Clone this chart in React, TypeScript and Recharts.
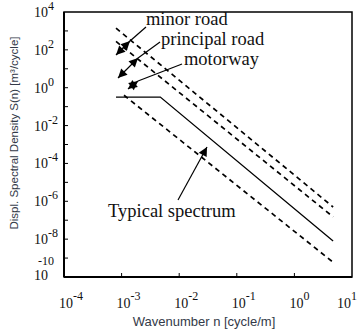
import React from "react";
import {
  LineChart,
  Line,
  XAxis,
  YAxis,
  ReferenceArea,
  ReferenceLine,
  ReferenceDot,
} from "recharts";

// spectra (n in cycle/m, S in m^3/cycle)
const upperN = [8e-4, 4.7];
const upperS = [1400, 5e-7];
const middleN = [8e-4, 4.7];
const middleS = [280, 1.5e-7];
const typicalN = [8e-4, 4.7e-3, 4.7];
const typicalS = [0.32, 0.32, 8e-9];
const lowerN = [1.1e-3, 4.7];
const lowerS = [0.4, 6e-10];

const xTicks = [1e-4, 1e-3, 1e-2, 1e-1, 1, 10];
const yTicks = [
  1e-10, 1e-9, 1e-8, 1e-7, 1e-6, 1e-5, 1e-4, 1e-3, 1e-2, 1e-1, 1, 10, 100,
  1000, 1e4,
];

// annotation texts and where they sit (data units)
const noteText = ["minor road", "principal road", "motorway", "Typical spectrum"];
const noteN = [2.65e-3, 4.83e-3, 1.21e-2, 5.81e-4];
const noteS = [2050, 181, 15.8, 1.48e-7];

// pointer arrows: [n1, S1, n2, S2], heads
const arrows: { seg: number[]; heads: string }[] = [
  { seg: [2.65e-3, 1622, 1.4e-3, 294], heads: "none" },
  { seg: [1.4e-3, 294, 8.0e-4, 53.5], heads: "both" },
  { seg: [4.65e-3, 260, 1.93e-3, 37.2], heads: "none" },
  { seg: [1.93e-3, 37.2, 8.66e-4, 3.26], heads: "both" },
  { seg: [1.12e-2, 17.9, 1.93e-3, 2.26], heads: "none" },
  { seg: [1.93e-3, 2.26, 1.29e-3, 0.855], heads: "both" },
  { seg: [9.53e-3, 1.17e-6, 3.04e-2, 7.4e-4], heads: "end" },
];

const toPoints = (ns: number[], ss: number[]) =>
  ns.map((n, i) => ({ n, S: ss[i] }));

const serif = "'Liberation Serif', 'Times New Roman', serif";
const sans = "'Liberation Sans', Arial, sans-serif";

const head = (xa: number, ya: number, xb: number, yb: number) => {
  const ang = Math.atan2(yb - ya, xb - xa);
  const L = 9;
  const W = 4.5;
  const bx = xb - L * Math.cos(ang);
  const by = yb - L * Math.sin(ang);
  const px = -Math.sin(ang) * W;
  const py = Math.cos(ang) * W;
  return (
    <polygon
      points={`${xb},${yb} ${bx + px},${by + py} ${bx - px},${by - py}`}
      fill="#000"
    />
  );
};

const arrowShape = (heads: string) => (p: any) => {
  const { x1, y1, x2, y2 } = p;
  return (
    <g>
      <line x1={x1} y1={y1} x2={x2} y2={y2} stroke="#000" strokeWidth={1.2} />
      {(heads === "end" || heads === "both") && head(x1, y1, x2, y2)}
      {heads === "both" && head(x2, y2, x1, y1)}
    </g>
  );
};

const YTick = (props: any) => {
  const { x, y, payload } = props;
  const e = Math.round(Math.log10(payload.value));
  const edge = e === 4 || e === -10;
  const bottom = e === -10;
  return (
    <g>
      {!edge && <line x1={x} x2={x + 4} y1={y} y2={y} stroke="#000" />}
      {e % 2 === 0 && (
        <text fontFamily={serif} fill="#111">
          <tspan
            x={x - 16}
            y={bottom ? y + 3 : y + 5}
            fontSize={14}
            textAnchor="end"
          >
            10
          </tspan>
          <tspan
            x={bottom ? x - 26 : x - 16}
            y={bottom ? y - 12.5 : y - 2}
            fontSize={12}
            textAnchor="start"
          >
            {e}
          </tspan>
        </text>
      )}
    </g>
  );
};

const XTick = (props: any) => {
  const { x, y, payload } = props;
  const e = Math.round(Math.log10(payload.value));
  const shift = e === 1 ? -10 : 0;
  return (
    <g>
      {e > -4 && e < 1 && (
        <line x1={x} x2={x} y1={y} y2={y - 4} stroke="#000" />
      )}
      <text fontFamily={serif} fill="#111">
        <tspan x={x + 2 + shift} y={y + 31} fontSize={14} textAnchor="middle">
          10
        </tspan>
        <tspan x={x + 9 + shift} y={y + 23} fontSize={12} textAnchor="start">
          {e}
        </tspan>
      </text>
    </g>
  );
};

export default function App() {
  return (
    <div style={{ position: "absolute", left: 0, top: 0, background: "#fff" }}>
      <LineChart
        width={360}
        height={331}
        margin={{ top: 12, right: 8, left: 0, bottom: 0 }}
      >
        <XAxis
          dataKey="n"
          type="number"
          scale="log"
          domain={[1e-4, 10]}
          ticks={xTicks}
          allowDataOverflow
          height={54}
          tickSize={0}
          tickMargin={0}
          tickLine={false}
          axisLine={{ stroke: "#000", strokeWidth: 2 }}
          tick={<XTick />}
          interval={0}
          label={{
            content: () => (
              <text
                x={204}
                y={326}
                textAnchor="middle"
                fontFamily={sans}
                fontSize={13}
                fill="#333a48"
              >
                Wavenumber n [cycle/m]
              </text>
            ),
          }}
        />
        <YAxis
          dataKey="S"
          type="number"
          scale="log"
          domain={[1e-10, 1e4]}
          ticks={yTicks}
          allowDataOverflow
          width={64}
          tickSize={0}
          tickMargin={0}
          tickLine={false}
          axisLine={{ stroke: "#000", strokeWidth: 2 }}
          tick={<YTick />}
          interval={0}
          label={{
            content: () => (
              <text
                transform="translate(18,133) rotate(-90)"
                textAnchor="middle"
                fontFamily={sans}
                fontSize={11.5}
                fill="#333a48"
              >
                Displ. Spectral Density S(n) [m³/cycle]
              </text>
            ),
          }}
        />
        <ReferenceArea
          x1={1e-4}
          x2={10}
          y1={1e-10}
          y2={1e4}
          fill="none"
          stroke="#000"
          strokeWidth={1.5}
          fillOpacity={0}
        />
        <Line
          data={toPoints(upperN, upperS)}
          dataKey="S"
          stroke="#000"
          strokeWidth={1.7}
          strokeDasharray="5 4"
          dot={false}
          isAnimationActive={false}
        />
        <Line
          data={toPoints(middleN, middleS)}
          dataKey="S"
          stroke="#000"
          strokeWidth={1.7}
          strokeDasharray="5 4"
          dot={false}
          isAnimationActive={false}
        />
        <Line
          data={toPoints(typicalN, typicalS)}
          dataKey="S"
          stroke="#000"
          strokeWidth={1.3}
          dot={false}
          isAnimationActive={false}
        />
        <Line
          data={toPoints(lowerN, lowerS)}
          dataKey="S"
          stroke="#000"
          strokeWidth={1.7}
          strokeDasharray="5 4"
          dot={false}
          isAnimationActive={false}
        />
        {arrows.map((a, i) => (
          <ReferenceLine
            key={`arrow-${i}`}
            segment={[
              { x: a.seg[0], y: a.seg[1] },
              { x: a.seg[2], y: a.seg[3] },
            ]}
            stroke="#000"
            shape={arrowShape(a.heads)}
          />
        ))}
        {noteText.map((t, i) => (
          <ReferenceDot
            key={`note-${i}`}
            x={noteN[i]}
            y={noteS[i]}
            r={0}
            shape={(p: any) => (
              <text
                x={p.cx}
                y={p.cy}
                fontFamily={serif}
                fontSize={18.5}
                fill="#111"
              >
                {t}
              </text>
            )}
          />
        ))}
      </LineChart>
    </div>
  );
}
